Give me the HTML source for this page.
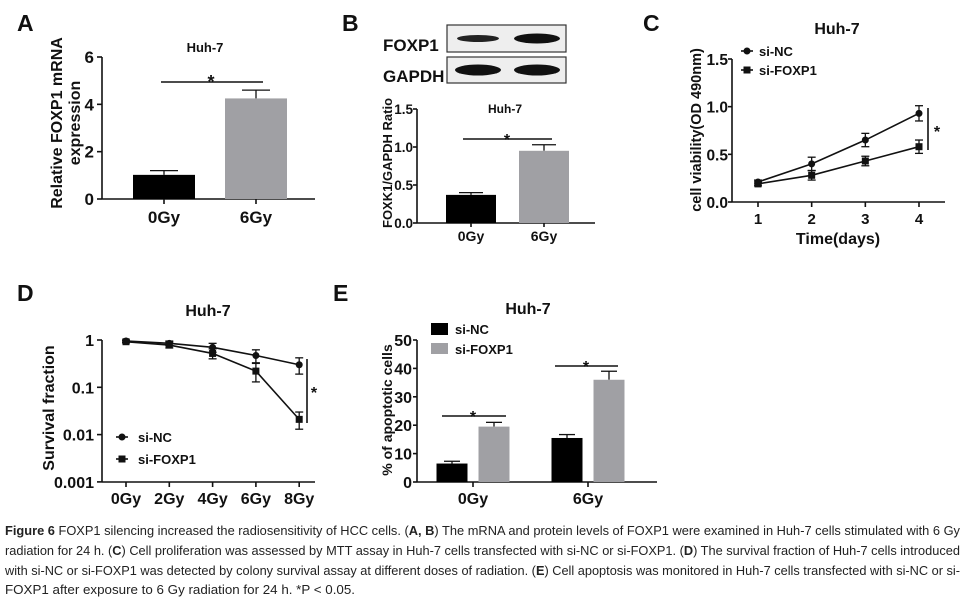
<!DOCTYPE html>
<html><head><meta charset="utf-8"><style>
html,body{margin:0;padding:0;background:#fff;width:967px;height:606px;overflow:hidden}
svg{display:block;font-family:"Liberation Sans",Arial,sans-serif}
</style></head><body>
<svg id="fig" width="967" height="606" viewBox="0 0 967 606">
<g id="static" font-weight="bold" fill="#111">
<text x="17" y="31" font-size="23">A</text>
<text x="342" y="31" font-size="23">B</text>
<text x="643" y="31" font-size="23">C</text>
<text x="17" y="301" font-size="23">D</text>
<text x="333" y="301" font-size="23">E</text>
<text x="383" y="51" font-size="17">FOXP1</text>
<text x="383" y="82" font-size="17">GAPDH</text>
<rect x="447" y="25" width="119" height="27" fill="#eee" stroke="#333" stroke-width="1.2"/>
<rect x="447" y="57" width="119" height="26" fill="#eee" stroke="#333" stroke-width="1.2"/>
<ellipse cx="478" cy="38.5" rx="21" ry="3.5" fill="#222"/>
<ellipse cx="537" cy="38.5" rx="23" ry="5" fill="#111"/>
<ellipse cx="478" cy="70" rx="23" ry="5.5" fill="#111"/>
<ellipse cx="537" cy="70" rx="23" ry="5.5" fill="#111"/>
</g>
<g id="plots"></g>
<g id="caption" font-family="'Liberation Sans Narrow','Liberation Sans',sans-serif" font-size="12.5" fill="#222">
<text x="5" y="535" textLength="955" lengthAdjust="spacingAndGlyphs"><tspan font-weight="bold">Figure 6</tspan> FOXP1 silencing increased the radiosensitivity of HCC cells. (<tspan font-weight="bold">A, B</tspan>) The mRNA and protein levels of FOXP1 were examined in Huh-7 cells stimulated with 6 Gy</text>
<text x="5" y="555" textLength="955" lengthAdjust="spacingAndGlyphs">radiation for 24 h. (<tspan font-weight="bold">C</tspan>) Cell proliferation was assessed by MTT assay in Huh-7 cells transfected with si-NC or si-FOXP1. (<tspan font-weight="bold">D</tspan>) The survival fraction of Huh-7 cells introduced</text>
<text x="5" y="575" textLength="955" lengthAdjust="spacingAndGlyphs">with si-NC or si-FOXP1 was detected by colony survival assay at different doses of radiation. (<tspan font-weight="bold">E</tspan>) Cell apoptosis was monitored in Huh-7 cells transfected with si-NC or si-</text>
<text x="5" y="594" textLength="350" lengthAdjust="spacingAndGlyphs">FOXP1 after exposure to 6 Gy radiation for 24 h. *P &lt; 0.05.</text>
</g>
</svg>
<script>
// Panel A
const aCats = ['0Gy','6Gy'];
const aVals = [1.02, 4.25];
const aErr = [0.18, 0.35];
const aTicks = [0,2,4,6];
// Panel B
const bCats = ['0Gy','6Gy'];
const bVals = [0.37, 0.95];
const bErr = [0.03, 0.08];
const bTicks = ['0.0','0.5','1.0','1.5'];
// Panel C
const cDays = [1,2,3,4];
const cNC = [0.21,0.40,0.65,0.93];
const cNCerr = [0.02,0.07,0.07,0.08];
const cFX = [0.19,0.28,0.43,0.58];
const cFXerr = [0.02,0.05,0.05,0.07];
const cTicks = ['0.0','0.5','1.0','1.5'];
// Panel D
const dCats = ['0Gy','2Gy','4Gy','6Gy','8Gy'];
const dNC = [0.95,0.85,0.70,0.47,0.30];
const dNCerrHi = [1.0,0.95,0.85,0.62,0.42];
const dNClo = [0.9,0.75,0.55,0.33,0.19];
const dFX = [0.92,0.78,0.52,0.22,0.021];
const dFXhi = [0.97,0.9,0.65,0.32,0.03];
const dFXlo = [0.87,0.68,0.40,0.13,0.013];
const dTicks = ['1','0.1','0.01','0.001'];
// Panel E
const eGroups = ['0Gy','6Gy'];
const eNC = [6.5, 15.5];
const eNCerr = [0.8, 1.2];
const eFX = [19.5, 36];
const eFXerr = [1.5, 3];
const eTicks = [0,10,20,30,40,50];

const NS='http://www.w3.org/2000/svg';
const root=document.getElementById('plots');
function el(tag,attrs,parent,txt){const e=document.createElementNS(NS,tag);for(const k in attrs)e.setAttribute(k,attrs[k]);if(txt!==undefined)e.textContent=txt;(parent||root).appendChild(e);return e;}
function line(x1,y1,x2,y2,g,w){return el('line',{x1,y1,x2,y2,stroke:'#111','stroke-width':w||1.6},g);}
function txt(x,y,s,size,g,anchor,extra){return el('text',Object.assign({x,y,'font-size':size,'font-weight':'bold','text-anchor':anchor||'middle',fill:'#111'},extra||{}),g,s);}
function errbar(x,y1,y2,g,w){line(x,y1,x,y2,g,1.3);line(x-(w||7),y2,x+(w||7),y2,g,1.3);}

// ---------- A
(function(){
 const g=el('g',{});
 const y=v=>199-v*(142/6);
 line(102,57,102,199,g);line(102,199,315,199,g);
 aTicks.forEach(t=>{line(97,y(t),102,y(t),g);txt(94,y(t)+6,String(t),17,g,'end');});
 const xs=[164,256],cols=['#000','#a0a0a4'];
 aCats.forEach((c,i)=>{
  errbar(xs[i],y(aVals[i]),y(aVals[i]+aErr[i]),g,14);
  const r=el('rect',{x:xs[i]-31,y:y(aVals[i]),width:62,height:199-y(aVals[i]),fill:cols[i]},g);
  
  line(xs[i],199,xs[i],204,g);
  txt(xs[i],223,c,17,g);
 });
 line(161,82,263,82,g);txt(211,88,'*',18,g);
 txt(205,52,'Huh-7',13,g);
 const t=el('text',{transform:'translate(62,123) rotate(-90)','font-size':16,'font-weight':'bold','text-anchor':'middle',fill:'#111'},g,'Relative FOXP1 mRNA');
 
 el('text',{transform:'translate(80,123) rotate(-90)','font-size':16,'font-weight':'bold','text-anchor':'middle',fill:'#111'},g,'expression');
})();

// ---------- B
(function(){
 const g=el('g',{});
 const y=v=>223-v*(114/1.5);
 line(417,109,417,223,g);line(417,223,595,223,g);
 bTicks.forEach(t=>{const v=parseFloat(t);line(413,y(v),417,y(v),g);txt(413,y(v)+5,t,13.5,g,'end');});
 const xs=[471,544],cols=['#000','#a0a0a4'];
 bCats.forEach((c,i)=>{
  errbar(xs[i],y(bVals[i]),y(bVals[i]+bErr[i]),g,12);
  const r=el('rect',{x:xs[i]-25,y:y(bVals[i]),width:50,height:223-y(bVals[i]),fill:cols[i]},g);
  
  line(xs[i],223,xs[i],227,g);
  txt(xs[i],241,c,14,g);
 });
 line(463,139,552,139,g);txt(507,145,'*',16,g);
 txt(505,113,'Huh-7',12,g);
 const t=el('text',{transform:'translate(392,163) rotate(-90)','font-size':13,'font-weight':'bold','text-anchor':'middle',fill:'#111'},g,'FOXK1/GAPDH Ratio');
 
})();

// ---------- C
(function(){
 const g=el('g',{});
 const y=v=>202-v*(143/1.5), x=d=>758+(d-1)*(161/3);
 line(732,59,732,202,g);line(732,202,945,202,g);
 cTicks.forEach(t=>{const v=parseFloat(t);line(728,y(v),732,y(v),g);txt(728,y(v)+6,t,15.5,g,'end');});
 cDays.forEach(d=>{line(x(d),202,x(d),207,g);txt(x(d),224,String(d),15,g);});
 function series(vals,errs,shape,name){
  const pts=cDays.map((d,i)=>x(d)+','+y(vals[i])).join(' ');
  const p=el('polyline',{points:pts,fill:'none',stroke:'#111','stroke-width':1.6},g);
  
  cDays.forEach((d,i)=>{line(x(d),y(vals[i]-errs[i]),x(d),y(vals[i]+errs[i]),g,1.3);
   line(x(d)-4,y(vals[i]-errs[i]),x(d)+4,y(vals[i]-errs[i]),g,1.3);line(x(d)-4,y(vals[i]+errs[i]),x(d)+4,y(vals[i]+errs[i]),g,1.3);
   const m=shape==='c'?el('circle',{cx:x(d),cy:y(vals[i]),r:3.5,fill:'#111'},g):el('rect',{x:x(d)-3.5,y:y(vals[i])-3.5,width:7,height:7,fill:'#111'},g);
   });
 }
 series(cNC,cNCerr,'c','si-nc');series(cFX,cFXerr,'s','si-foxp1');
 line(928,108,928,150,g);txt(937,137,'*',16,g);
 line(741,51,753,51,g);el('circle',{cx:747,cy:51,r:3.5,fill:'#111'},g);txt(759,56,'si-NC',13,g,'start');
 line(741,70,753,70,g);el('rect',{x:743.5,y:66.5,width:7,height:7,fill:'#111'},g);txt(759,75,'si-FOXP1',13,g,'start');
 txt(837,34,'Huh-7',16,g);
 txt(838,244,'Time(days)',16,g);
 const t=el('text',{transform:'translate(701,130) rotate(-90)','font-size':14.5,'font-weight':'bold','text-anchor':'middle',fill:'#111'},g,'cell viability(OD 490nm)');
 
})();

// ---------- D
(function(){
 const g=el('g',{});
 const y=v=>340-Math.log10(v)*47.3, x=i=>126+i*43.3;
 line(102,340,102,482,g);line(102,482,315,482,g);
 dTicks.forEach(t=>{const v=parseFloat(t);line(97,y(v),102,y(v),g);txt(94,y(v)+6,t,16,g,'end');});
 dCats.forEach((c,i)=>{line(x(i),482,x(i),487,g);txt(x(i),504,c,16,g);});
 function series(vals,lo,hi,shape,name){
  const pts=dCats.map((c,i)=>x(i)+','+y(vals[i])).join(' ');
  const p=el('polyline',{points:pts,fill:'none',stroke:'#111','stroke-width':1.6},g);
  
  dCats.forEach((c,i)=>{line(x(i),y(lo[i]),x(i),y(hi[i]),g,1.3);
   line(x(i)-4,y(lo[i]),x(i)+4,y(lo[i]),g,1.3);line(x(i)-4,y(hi[i]),x(i)+4,y(hi[i]),g,1.3);
   const m=shape==='c'?el('circle',{cx:x(i),cy:y(vals[i]),r:3.5,fill:'#111'},g):el('rect',{x:x(i)-3.5,y:y(vals[i])-3.5,width:7,height:7,fill:'#111'},g);
   });
 }
 series(dNC,dNClo,dNCerrHi,'c','si-nc');series(dFX,dFXlo,dFXhi,'s','si-foxp1');
 line(307,359,307,423,g);txt(314,398,'*',16,g);
 line(116,437,128,437,g);el('circle',{cx:122,cy:437,r:3.5,fill:'#111'},g);txt(138,442,'si-NC',13,g,'start');
 line(116,459,128,459,g);el('rect',{x:118.5,y:455.5,width:7,height:7,fill:'#111'},g);txt(138,464,'si-FOXP1',13,g,'start');
 txt(208,316,'Huh-7',16,g);
 const t=el('text',{transform:'translate(54,408) rotate(-90)','font-size':16,'font-weight':'bold','text-anchor':'middle',fill:'#111'},g,'Survival fraction');
 
})();

// ---------- E
(function(){
 const g=el('g',{});
 const y=v=>482-v*(142/50), gx=[473,588];
 line(417,340,417,482,g);line(417,482,657,482,g);
 eTicks.forEach(t=>{line(413,y(t),417,y(t),g);txt(412,y(t)+6,String(t),16,g,'end');});
 eGroups.forEach((c,i)=>{
  line(gx[i],482,gx[i],487,g);txt(gx[i],504,c,16,g);
  [[eNC,eNCerr,'#000',-21,'si-nc'],[eFX,eFXerr,'#a0a0a4',21,'si-foxp1']].forEach(s=>{
   const cx=gx[i]+s[3],v=s[0][i];
   errbar(cx,y(v),y(v+s[1][i]),g,8);
   const r=el('rect',{x:cx-15.5,y:y(v),width:31,height:482-y(v),fill:s[2]},g);
   
  });
 });
 line(442,416,506,416,g);txt(473,422,'*',16,g);
 line(555,366,618,366,g);txt(586,372,'*',16,g);
 el('rect',{x:431,y:323,width:17,height:12,fill:'#000'},g);txt(455,334,'si-NC',13,g,'start');
 el('rect',{x:431,y:343,width:17,height:11,fill:'#a0a0a4'},g);txt(455,354,'si-FOXP1',13,g,'start');
 txt(528,314,'Huh-7',16,g);
 const t=el('text',{transform:'translate(392,410) rotate(-90)','font-size':14,'font-weight':'bold','text-anchor':'middle',fill:'#111'},g,'% of apoptotic cells');
 
})();
</script>
</body></html>
